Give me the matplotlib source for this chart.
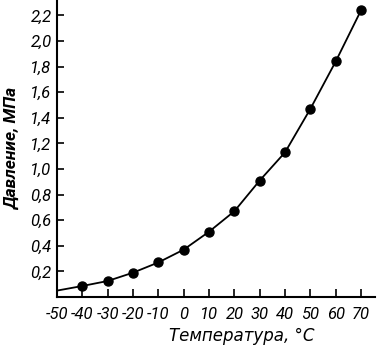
import matplotlib
matplotlib.use("Agg")
import matplotlib.pyplot as plt

# data
temps_curve = [-50, -40, -30, -20, -10, 0, 10, 20, 30, 40, 50, 60, 70]
press_curve = [0.05, 0.086, 0.125, 0.19, 0.27, 0.37, 0.51, 0.67, 0.91, 1.13, 1.47, 1.84, 2.24]
temps_pts = [-40, -30, -20, -10, 0, 10, 20, 30, 40, 50, 60, 70]
press_pts = [0.086, 0.125, 0.19, 0.27, 0.37, 0.51, 0.67, 0.91, 1.13, 1.47, 1.84, 2.24]
xticks = [-50, -40, -30, -20, -10, 0, 10, 20, 30, 40, 50, 60, 70]
xticklabels = ["-50", "-40", "-30", "-20", "-10", "0", "10", "20", "30", "40", "50", "60", "70"]
yticks = [0.2, 0.4, 0.6, 0.8, 1.0, 1.2, 1.4, 1.6, 1.8, 2.0, 2.2]
yticklabels = ["0,2", "0,4", "0,6", "0,8", "1,0", "1,2", "1,4", "1,6", "1,8", "2,0", "2,2"]

tick_fam = ["Roboto", "DejaVu Sans"]
lab_fam = ["DejaVu Sans"]

fig = plt.figure(figsize=(3.88, 3.5), dpi=100)
ax = fig.add_axes([57/388, 1-297/350, (375-57)/388, 297/350])
ax.plot(temps_curve, press_curve, color="black", lw=1.3)
ax.plot(temps_pts, press_pts, "o", color="black", ms=6.5)
ax.set_xlim(-50, 75.5)
ax.set_ylim(0, 2.32)
for s in ["top", "right"]:
    ax.spines[s].set_visible(False)
for s in ["left", "bottom"]:
    ax.spines[s].set_linewidth(1.5)
ax.set_xticks(xticks)
ax.set_xticklabels(xticklabels, family=tick_fam, style="italic", fontsize=12)
ax.set_yticks(yticks)
ax.set_yticklabels(yticklabels, family=tick_fam, style="italic", fontsize=12)
ax.tick_params(axis="x", direction="in", length=6, width=1.2, pad=7)
ax.tick_params(axis="y", direction="in", length=5, width=1.2, pad=4)
ax.set_xlabel("Температура, °C", family=lab_fam, style="italic", fontsize=12)
ax.xaxis.set_label_coords((242-57)/318, -(336-297)/297)
ax.xaxis.label.set_va("center")
ax.set_ylabel("Давление, МПа", family=tick_fam, style="italic", fontsize=12.5, fontweight="bold")
ax.yaxis.set_label_coords(-(57-13)/318, 0.5)
ax.yaxis.label.set_va("center")
fig.savefig("out.png", dpi=100)
